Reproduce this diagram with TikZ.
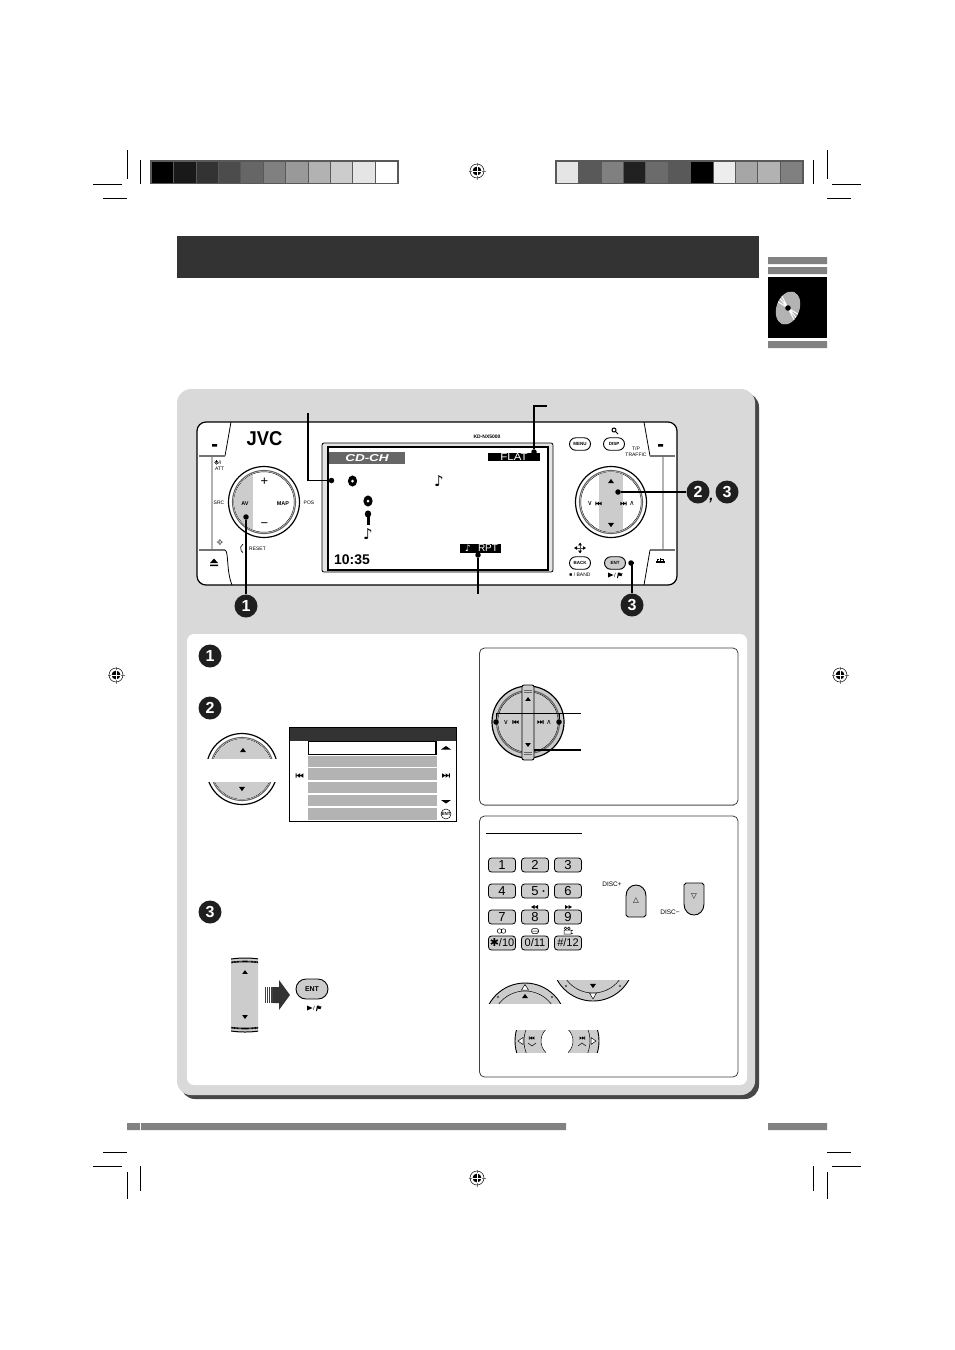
\documentclass[tikz,border=0pt]{standalone}
\usepackage{fontspec}
\setmainfont{Liberation Sans}
\newfontfamily\djv{DejaVu Sans}
\usetikzlibrary{shapes.misc}
\definecolor{pg}{HTML}{D9D9D9}
\definecolor{bandc}{HTML}{333333}
\definecolor{btn}{HTML}{CCCCCC}
\definecolor{rowc}{HTML}{B3B3B3}
\definecolor{barc}{HTML}{828282}
\definecolor{barb}{HTML}{595959}
\tikzset{
  badge/.style={circle,fill=black!88,text=white,inner sep=0pt,minimum size=23pt,font=\fontsize{16}{16}\selectfont\bfseries},
  ldot/.style={circle,fill=black,inner sep=0pt,minimum size=5.5pt},
  leader/.style={line width=1.1pt,black},
  oval/.style={draw=black,fill=white,line width=.9pt,rounded rectangle,minimum width=21pt,minimum height=12.5pt,inner sep=0pt,font=\fontsize{4.5}{5}\selectfont\bfseries},
  keyb/.style={draw=black,fill=btn,line width=.8pt,rounded corners=3pt,minimum width=27pt,minimum height=14pt,inner sep=0pt},
  tiny/.style={inner sep=0pt,font=\fontsize{5}{5.6}\selectfont},
  crop/.style={line width=.8pt,black},
}
\newcommand{\regm}[2]{\begin{scope}[shift={(#1,#2)}]
  \draw[line width=.4pt,gray] (-8.5,0)--(8.5,0) (0,-8.5)--(0,8.5);
  \draw[line width=.5pt,black] (0,0) circle[radius=7pt];
  \fill[black] (0,0) circle[radius=4.4pt];
  \draw[line width=.7pt,white] (-5,0)--(5,0) (0,-5)--(0,5);
\end{scope}}
\newcommand{\tup}[3]{\fill[black] (#1-#3,#2+#3*.7)--(#1+#3,#2+#3*.7)--(#1,#2-#3*.7)--cycle;}
\newcommand{\tdn}[3]{\fill[black] (#1-#3,#2-#3*.7)--(#1+#3,#2-#3*.7)--(#1,#2+#3*.7)--cycle;}
\newcommand{\skf}[3]{\begin{scope}[shift={(#1,#2)},scale=#3]
  \fill[black] (-3,-2)--(0,0)--(-3,2)--cycle (0,-2)--(3,0)--(0,2)--cycle (3,-2) rectangle (3.9,2);
\end{scope}}
\newcommand{\skb}[3]{\begin{scope}[shift={(#1,#2)},scale=#3]
  \fill[black] (3,-2)--(0,0)--(3,2)--cycle (0,-2)--(-3,0)--(0,2)--cycle (-3,-2) rectangle (-3.9,2);
\end{scope}}
\newcommand{\knob}[2]{
  \draw[line width=1.2pt,black,fill=white] (#1,#2) circle[radius=35.5pt];
  \draw[line width=1.1pt,black!60] (#1,#2) circle[radius=31.5pt];
  \draw[line width=.4pt,black] (#1,#2) circle[radius=30.2pt];
}
\newcommand{\discic}[2]{\fill[black] (#1,#2) ellipse[x radius=4.6pt,y radius=5.6pt];\fill[white] (#1,#2) circle[radius=1.5pt];}
\newcommand{\playflag}[2]{
  \fill[black] (#1-7,#2-2.5)--(#1-7,#2+2.5)--(#1-1.5,#2)--cycle;
  \node[inner sep=0pt,font=\fontsize{6}{6}\selectfont] at (#1,#2) {/};
  \fill[black] (#1+2,#2+3)--(#1+3,#2-2.5)--(#1+5,#2-2.5)--(#1+5.5,#2-1.5)--(#1+7.5,#2-1.8)--(#1+6.5,#2+1.2)--(#1+3.5,#2+.5)--(#1+3,#2+3)--cycle;
}
\begin{document}
\begin{tikzpicture}[x=1pt,y=-1pt]
\useasboundingbox (0,0) rectangle (954,1350);
\fill[white] (0,0) rectangle (954,1350);
% crop marks
\draw[crop] (127,150)--(127,179) (140.5,160)--(140.5,184) (93,184)--(122,184) (103,198)--(127,198);
\draw[crop] (813,160)--(813,184) (827,150)--(827,179) (832,184)--(861,184) (827,198)--(851,198);
\draw[crop] (103,1152)--(127,1152) (93,1166)--(122,1166) (127,1172)--(127,1199) (140.5,1166)--(140.5,1191);
\draw[crop] (827,1152)--(851,1152) (832,1166)--(861,1166) (827,1172)--(827,1199) (813,1166)--(813,1191);
\regm{477}{171}\regm{477}{1178}\regm{116}{675}\regm{840}{675}
% colour bars
\fill[barb] (150,160) rectangle (399,184);
\foreach \c [count=\i from 0] in {0,10,20,30,40,50,60,70,80,90,100}{
  \pgfmathsetmacro\xa{151.8+\i*22.4}
  \fill[white!\c!black] (\xa,162) rectangle (\xa+21.4,182.5);
}
\fill[barb] (555,160) rectangle (804,184);
\foreach \c [count=\i from 0] in {90,35,50,13,42,35,0,93,65,70,50}{
  \pgfmathsetmacro\xa{556.8+\i*22.4}
  \fill[white!\c!black] (\xa,162) rectangle (\xa+21.4,182.5);
}
% header band
\fill[bandc] (177,236) rectangle (759,278);
% tab
\fill[barc] (768,257) rectangle (827,264) (768,267) rectangle (827,274) (768,341) rectangle (827,348);
\fill[black] (768,277) rectangle (827,338);
\begin{scope}[shift={(788,308)},rotate=-20]
  \clip (0,0) ellipse[x radius=11.5pt,y radius=17pt];
  \fill[rowc] (-20,-20) rectangle (20,20);
  \draw[white,line width=1pt] (-14,-8)--(14,8) (-14,-3)--(14,3) (-13,-12)--(13,12);
  \fill[rowc] (-3,-20) rectangle (3,-6) (-3,20) rectangle (3,6);
  \fill[black] (0,0) circle[radius=2.8pt];
\end{scope}
% bottom bands
\fill[barc] (127,1123) rectangle (566,1130) (768,1123) rectangle (827,1130);
\draw[white,line width=.4pt] (140.5,1123)--(140.5,1130);
% main panel
\fill[black!72,rounded corners=14pt] (181,393) rectangle (759,1099);
\fill[pg,rounded corners=14pt] (177,389) rectangle (755,1095);
\fill[white,rounded corners=7pt] (187,634) rectangle (747,1085);
% device
\draw[line width=1.2pt,black,fill=white,rounded corners=9pt] (197,422) rectangle (677,585);
\draw[line width=1.4pt,black!30] (212,456)--(212,550) (663,456)--(663,550);
\draw[line width=.8pt,black] (231,422)--(225,456);
\draw[line width=1.6pt,black!55] (199,456)--(225,456) (199,550)--(225,550);
\draw[line width=.8pt,black] (225,550) .. controls (229,552) and (226,570) .. (232,585);
\draw[line width=.8pt,black] (644,422)--(650,456);
\draw[line width=1.6pt,black!55] (650,456)--(675,456) (650,550)--(675,550);
\draw[line width=.8pt,black] (650,550)--(644,585);
\fill[black] (212,444) rectangle (217,446.5) (658,444) rectangle (663,446.5);
\fill[black] (210,563)--(218,563)--(214,558.5)--cycle (210,564.5) rectangle (218,566);
\draw[black,line width=.8pt] (657,562)--(657,559.5)--(659,559.5) (661,559.5)--(663.5,559.5)--(663.5,562);
\fill[black] (656,561) rectangle (665,563);\fill[black] (660,558) rectangle (661,561);
\node[inner sep=0pt,xscale=.92] (jvc) at (264.5,439) {\fontsize{20}{20}\selectfont\bfseries JVC};
\node[tiny] (kd) at (487,437) {\bfseries KD-NX5000};
% screen
\draw[line width=.8pt,black,fill=pg!70,rounded corners=2pt] (322,443) rectangle (553,572);
\draw[line width=1.5pt,black,fill=white] (328,447) rectangle (548,570);
\fill[black!60] (329,452) rectangle (405,464);
\node[inner sep=0pt,text=white,xscale=1.35] (cdch) at (367,458) {\fontsize{10}{10}\selectfont\bfseries\itshape CD-CH};
\discic{352.5}{481}\discic{368}{501}
\fill[black] (368,514) ellipse[x radius=3.2pt,y radius=3.6pt];
\fill[black] (367,516) rectangle (369.5,525);
\node[inner sep=0pt,font=\djv\fontsize{15}{15}\selectfont] (n1) at (439,481) {♪};
\node[inner sep=0pt,font=\djv\fontsize{15}{15}\selectfont] (n2) at (368,534) {♪};
\node[inner sep=0pt] (clock) at (352,560) {\fontsize{14}{14}\selectfont\bfseries 10:35};
\fill[black] (488,453) rectangle (540,461);
\node[inner sep=0pt,text=white,xscale=1.15] (flat) at (514,457) {\fontsize{10}{10}\selectfont FLAT};
\fill[black] (460,544) rectangle (501,553);
\node[inner sep=0pt,text=white,font=\djv\bfseries\fontsize{9}{9}\selectfont] (rn) at (468,548.5) {♪};
\node[inner sep=0pt,text=white] (rpt) at (488,548.5) {\fontsize{10}{10}\selectfont RPT};
% left knob
\knob{264}{502}
\begin{scope}
  \clip (264,502) circle[radius=29.8pt];
  \fill[btn] (230,460) rectangle (253,545);
\end{scope}
\node[inner sep=0pt] (av) at (245,504) {\fontsize{5.5}{6}\selectfont\bfseries AV};
\node[inner sep=0pt] (map) at (283,504) {\fontsize{5.5}{6}\selectfont\bfseries MAP};
\node[inner sep=0pt] (plus) at (264.5,482) {\fontsize{13}{13}\selectfont +};
\node[inner sep=0pt] (minus) at (264.5,525) {\fontsize{13}{13}\selectfont −};
\node[tiny] (src) at (219,503) {SRC};
\node[tiny] (pos) at (309,503) {POS};
\node[tiny] (reset) at (257.5,549) {RESET};
\draw[line width=.6pt] (243,544) arc[start angle=120,end angle=240,radius=5pt];
\draw[line width=.6pt] (216.5,462.5) circle[radius=1.7pt] (216.5,460)--(216.5,462.5);
\node[tiny,anchor=west] (on) at (218.5,462.5) {/I};
\node[tiny,anchor=west] (att) at (215,468.5) {ATT};
\node[inner sep=0pt,text=black!60,font=\djv\fontsize{8}{8}\selectfont] (sp) at (220,543) {✥};
% right knob
\knob{611}{502}
\begin{scope}
  \clip (611,502) circle[radius=29.8pt];
  \fill[btn] (599,460) rectangle (623,545);
\end{scope}
\tup{611}{481}{3}\tdn{611}{525}{3}
\node[inner sep=0pt,font=\djv\fontsize{7}{7}\selectfont] (vv) at (590,503.5) {∨};
\skb{599}{503.5}{.9}
\skf{623}{503.5}{.9}
\node[inner sep=0pt,font=\djv\fontsize{7}{7}\selectfont] (aa) at (632,503.5) {∧};
\node[oval] (menu) at (580,444) {MENU};
\node[oval] (disp) at (614,444) {DISP};
\draw[line width=1pt] (614,430) circle[radius=2pt] (615.5,431.5)--(618,434);
\node[tiny,align=center] (tp) at (636,452) {T/P\\TRAFFIC};
\node[oval] (back) at (580,563) {BACK};
\node[oval,fill=btn] (ent) at (615,563) {ENT};
\node[tiny] (band) at (580,575) {■ / BAND};
\playflag{615}{575}
\draw[line width=.5pt,black!70] (580,543)--(580,553) (575,548)--(585,548);
\tup{580}{544}{1.8}\tdn{580}{552}{1.8}
\fill[black] (574,548)--(577,546.2)--(577,549.8)--cycle (586,548)--(583,546.2)--(583,549.8)--cycle;
% device callouts
\node[ldot] (d1) at (246,517) {};
\node[badge] (b1) at (246,606) {1};
\draw[leader] (d1)--(b1);
\node[ldot] (d2) at (331.5,480.5) {};
\coordinate (c2) at (308,413);
\draw[leader] (c2)--(308,480.5)--(d2);
\node[ldot] (d3) at (534,452) {};
\coordinate (c3) at (547,406);
\draw[leader] (d3)--(534,406)--(c3);
\node[ldot] (d4) at (478,555) {};
\coordinate (c4) at (478,594);
\draw[leader] (d4)--(c4);
\node[ldot] (d5) at (618,492) {};
\node[badge] (b2) at (698,492) {2};
\node[badge] (b3) at (727,492) {3};
\draw[leader] (d5)--(b2);
\node[inner sep=0pt] (comma) at (711.5,501) {\fontsize{15}{15}\selectfont\bfseries\itshape ,};
\node[ldot] (d6) at (631,563) {};
\node[badge] (b4) at (632,605) {3};
\draw[leader] (d6)--(632,563)--(b4);
% steps
\node[badge] (s1) at (210,656) {1};
\node[badge] (s2) at (210,708) {2};
\node[badge] (s3) at (210,912) {3};
% step 2 knob
\knob{242}{769}
\begin{scope}\clip (242,769) circle[radius=29.8pt];\fill[btn] (200,730) rectangle (285,810);\end{scope}
\fill[white] (200,759) rectangle (285,782);
\tup{243}{750}{3}\tdn{242}{789}{3}
% menu screen
\fill[white] (289,727) rectangle (456,821);
\fill[bandc] (289,727) rectangle (456,741);
\foreach \ya/\yb in {756/767,768/780,782/793,795/806,808/820}{\fill[rowc] (308,\ya) rectangle (437,\yb);}
\draw[line width=1.2pt,black] (308.5,741.5) rectangle (436,754.5);
\draw[line width=1pt,black] (289,727) rectangle (456,821);
\fill[black] (441,749.5)--(451,749.5)--(446,746)--cycle;
\fill[black] (441,800)--(451,800)--(446,803.5)--cycle;
\skf{445.5}{775.5}{1.1}
\skb{300}{775.5}{1.1}
\node[circle,draw=black,line width=.5pt,inner sep=.2pt,font=\fontsize{4.5}{5}\selectfont\bfseries] (e2) at (446,814) {ENT};
% step 3
\begin{scope}
  \clip (231,950) rectangle (258,1040);
  \fill[btn] (245,995) ellipse[x radius=60pt,y radius=37pt];
  \draw[line width=1pt,black] (245,995) ellipse[x radius=60pt,y radius=37pt];
  \draw[line width=.6pt,black] (245,995) ellipse[x radius=60pt,y radius=34pt] (245,995) ellipse[x radius=60pt,y radius=33pt];
\end{scope}
\tup{245}{972}{2.8}\tdn{245}{1017}{2.8}
\foreach \xa/\w in {265/.9,267/1.1,269/1.4,271/1.7}{\fill[black!75] (\xa,987) rectangle (\xa+\w,1003);}
\fill[black!80] (273,987)--(279,987)--(279,980)--(290,995)--(279,1010)--(279,1003)--(273,1003)--cycle;
\node[oval,fill=btn,minimum width=32pt,minimum height=20pt,font=\fontsize{7}{7}\selectfont\bfseries] (ent2) at (312,989) {ENT};
\playflag{314}{1008}
% info box 1
\draw[line width=.8pt,black!75,fill=white,rounded corners=5pt] (479.5,648) rectangle (738,805);
\draw[line width=1.2pt,black!45] (484,805.3)--(734,805.3);
\fill[btn] (528,722) circle[radius=36pt];
\draw[line width=1.2pt,black] (528,722) circle[radius=36pt];
\draw[line width=1.1pt,black!60] (528,722) circle[radius=31.5pt];
\draw[line width=.4pt,black] (528,722) circle[radius=30.2pt];
\draw[line width=.9pt,black,fill=btn,rounded corners=2pt] (522,685) rectangle (534,760);
\draw[line width=.7pt,black!60] (524,690)--(532,690) (524,692)--(532,692) (524,754)--(532,754) (524,752)--(532,752);
\tup{528}{699}{2.8}\tdn{528}{745}{2.8}
\node[inner sep=0pt,font=\djv\fontsize{7}{7}\selectfont] (v2) at (506,722) {∨};
\skb{516}{722}{.9}
\skf{540}{722}{.9}
\node[inner sep=0pt,font=\djv\fontsize{7}{7}\selectfont] (a2) at (549,722) {∧};
\node[ldot] (d7) at (496,722) {};
\node[ldot] (d8) at (559,722) {};
\coordinate (c7) at (581,713.5);
\coordinate (c8) at (581,750);
\draw[line width=.9pt] (d7)--(496,713.5)--(c7) (d8)--(559,713.5);
\draw[line width=1.2pt] (534,750)--(c8);
% info box 2
\draw[line width=.8pt,black!75,fill=white,rounded corners=5pt] (479.5,816) rectangle (738,1077);
\draw[line width=1pt] (486,833)--(582,833);
\foreach \yy/\a/\b/\c in {865/1/2/3,891/4/5/6,917/7/8/9}{
  \node[keyb,font=\fontsize{13}{13}\selectfont] (k\a) at (502,\yy) {\a};
  \node[keyb,font=\fontsize{13}{13}\selectfont] (k\b) at (535,\yy) {\b};
  \node[keyb,font=\fontsize{13}{13}\selectfont] (k\c) at (568,\yy) {\c};
}
\draw[line width=.3pt] (543.5,891) circle[radius=.9pt];
\node[keyb,font=\fontsize{11}{11}\selectfont] (k10) at (502,943) {\djv✱\fontspec{Liberation Sans}/10};
\node[keyb,font=\fontsize{11}{11}\selectfont] (k11) at (535,943) {0/11};
\node[keyb,font=\fontsize{11}{11}\selectfont] (k12) at (568,943) {\#/12};
\fill[black] (538,905)--(534.5,907)--(538,909)--cycle (534.5,905)--(531,907)--(534.5,909)--cycle;
\fill[black] (565,905)--(568.5,907)--(565,909)--cycle (568.5,905)--(572,907)--(568.5,909)--cycle;
\draw[line width=.5pt] (499.5,931) circle[radius=2.3pt] (503.5,931) circle[radius=2.3pt];
\draw[line width=.5pt,rounded corners=1.5pt] (531.5,928.5) rectangle (538.5,933.5) (531.5,931)--(538.5,931);
\draw[line width=.5pt] (564,930) rectangle (571,934) (571,931)--(573,930) (571,933)--(573,934) (565.5,928.3) circle[radius=1.3pt] (568.8,928.3) circle[radius=1.3pt];
% disc buttons
\node[inner sep=0pt] (dp) at (612,884) {\fontsize{6.5}{7}\selectfont DISC+};
\draw[line width=.9pt,fill=btn] (626,915)--(626,896) .. controls (626,889) and (631,885) .. (636,885) .. controls (641,885) and (646,889) .. (646,896)--(646,915)--(644,917)--(628,917)--cycle;
\node[inner sep=0pt,font=\djv\fontsize{7.5}{8}\selectfont] (up1) at (636,901) {△};
\node[inner sep=0pt] (dm) at (670,912) {\fontsize{6.5}{7}\selectfont DISC−};
\draw[line width=.9pt,fill=btn] (686,883)--(702,883)--(704,885)--(704,904) .. controls (704,911) and (699,915) .. (694,915) .. controls (689,915) and (684,911) .. (684,904)--(684,885)--cycle;
\node[inner sep=0pt,font=\djv\fontsize{7.5}{8}\selectfont] (dn1) at (694,897) {▽};
% knob pieces
\begin{scope}
  \clip (487,975) rectangle (565,1003);
  \fill[btn] (525,1024) circle[radius=41pt];
  \draw[line width=.9pt] (525,1024) circle[radius=41pt];
  \draw[line width=.5pt] (525,1024) circle[radius=33pt];
\end{scope}
\draw[line width=.5pt,fill=white] (521.5,990)--(528.5,990)--(525,984.5)--cycle;
\tup{525}{996}{3}
\draw[line width=.3pt] (498,997) circle[radius=1pt] (552,997) circle[radius=1pt];
\begin{scope}
  \clip (555,980) rectangle (632,1008);
  \fill[btn] (593,960) circle[radius=41pt];
  \draw[line width=.9pt] (593,960) circle[radius=41pt];
  \draw[line width=.5pt] (593,960) circle[radius=33pt];
\end{scope}
\draw[line width=.5pt,fill=white] (589.5,993)--(596.5,993)--(593,999)--cycle;
\tdn{593}{986}{3}
\draw[line width=.3pt] (566,986) circle[radius=1pt] (620,986) circle[radius=1pt];
\begin{scope}
  \clip (510,1030) rectangle (605,1052);
  \fill[btn] (557,1041) circle[radius=42pt];
  \draw[line width=.9pt] (557,1041) circle[radius=42pt];
  \draw[line width=.5pt] (557,1041) circle[radius=33pt];
  \fill[white] (557,1041) circle[radius=16pt];
  \draw[line width=.5pt] (557,1041) circle[radius=16pt];
  \fill[white] (546,1025) rectangle (568,1060);
\end{scope}
\draw[line width=.5pt,fill=white] (523,1037.5)--(523,1044.5)--(518,1041)--cycle;
\draw[line width=.5pt,fill=white] (591,1037.5)--(591,1044.5)--(596,1041)--cycle;
\skb{532}{1038}{.8}
\skf{582}{1038}{.8}
\draw[line width=.5pt] (528,1043)--(532,1046)--(536,1043) (578,1046)--(582,1043)--(586,1046);
\end{tikzpicture}
\end{document}
